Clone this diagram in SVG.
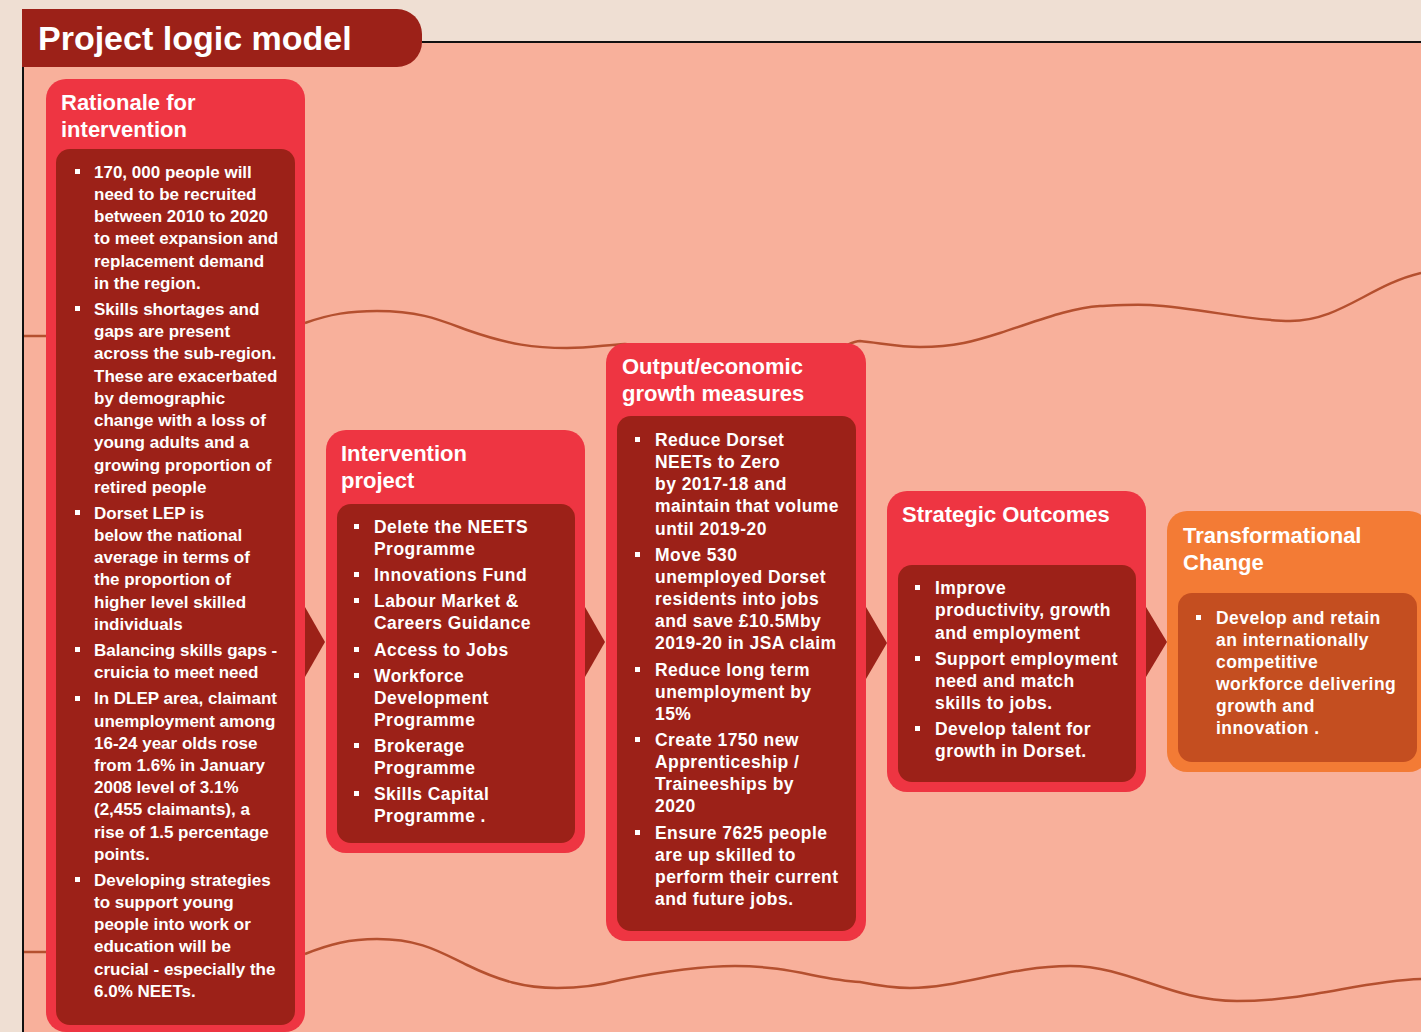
<svg xmlns="http://www.w3.org/2000/svg" width="1421" height="1032" viewBox="0 0 1421 1032">
<style>
.ttl{font-family:"Liberation Sans",Arial,sans-serif;font-weight:bold;font-size:22px;fill:#fff}
.b1{font-family:"Liberation Sans",Arial,sans-serif;font-weight:bold;font-size:17px;fill:#fff}
.bt{font-family:"Liberation Sans",Arial,sans-serif;font-weight:bold;font-size:17.5px;letter-spacing:0.45px;fill:#fff}
.outer{fill:#ee3542}
.inner{fill:#9c2118}
.wave{fill:none;stroke:#b5502f;stroke-width:2.5}
.arrow{fill:#9c2118}
.bul{fill:#fff}
</style>
<rect x="0" y="0" width="1421" height="1032" fill="#efdfd3"/>
<rect x="23" y="42" width="1398" height="990" fill="#f8b09b"/>
<path d="M22,9 H397 A25,25 0 0 1 422,34 V42 A25,25 0 0 1 397,67 H22 Z" fill="#9c2118"/>
<text x="38" y="50" font-family="Liberation Sans, Arial, sans-serif" font-weight="bold" font-size="34" fill="#fff">Project logic model</text>
<line x1="422" y1="42" x2="1421" y2="42" stroke="#111" stroke-width="2"/>
<line x1="23" y1="67" x2="23" y2="1032" stroke="#111" stroke-width="2"/>

<g id="connectors">
<line class="wave" x1="24" y1="336" x2="46" y2="336"/>
<line class="wave" x1="24" y1="952" x2="46" y2="952"/>
<path class="wave" d="M305,323 C330,314 350,311 377,311 C420,311 440,320 467,330 C510,345 535,348 567,348 C590,348 605,345 625,344 L700,352 L820,352 C840,352 850,341 860,341 C880,343 900,347 920,347 C955,347 975,341 1000,333 C1040,320 1070,308 1100,306 C1120,305 1135,304 1150,305 C1200,308 1250,321 1290,321 C1340,321 1370,285 1421,273"/>
<path class="wave" d="M305,954 C330,944 350,939 377,939 C420,939 440,952 467,965 C500,981 525,988 557,988 C585,988 605,984 620,980 C660,972 700,966 735,966 C790,966 820,980 860,982 C880,986 895,988 910,988 C960,988 1010,966 1070,966 C1130,966 1170,1001 1237,1001 C1310,1001 1360,981 1421,979"/>
<polygon class="arrow" points="305,607 325,642 305,677"/>
<polygon class="arrow" points="585,607 605,642 585,677"/>
<polygon class="arrow" points="866,607 887,643 866,679"/>
<polygon class="arrow" points="1146,607 1167,642 1146,677"/>
</g>

<g id="rationale">
<rect class="outer" x="46" y="79" width="259" height="953" rx="20"/>
<rect class="inner" x="56" y="149" width="239" height="876" rx="14"/>
<text class="ttl" x="61" y="110">Rationale for</text>
<text class="ttl" x="61" y="137">intervention</text>
<g class="bul">
<rect x="75" y="169" width="5" height="5"/>
<rect x="75" y="306" width="5" height="5"/>
<rect x="75" y="510" width="5" height="5"/>
<rect x="75" y="647" width="5" height="5"/>
<rect x="75" y="696" width="5" height="5"/>
<rect x="75" y="877" width="5" height="5"/>
</g>
<text class="b1">
<tspan x="94" y="177.5">170, 000 people will</tspan>
<tspan x="94" y="199.5">need to be recruited</tspan>
<tspan x="94" y="222">between 2010 to 2020</tspan>
<tspan x="94" y="244">to meet expansion and</tspan>
<tspan x="94" y="266.5">replacement demand</tspan>
<tspan x="94" y="288.5">in the region.</tspan>
<tspan x="94" y="314.5">Skills shortages and</tspan>
<tspan x="94" y="337">gaps are present</tspan>
<tspan x="94" y="359">across the sub-region.</tspan>
<tspan x="94" y="381.5">These are exacerbated</tspan>
<tspan x="94" y="403.5">by demographic</tspan>
<tspan x="94" y="426">change with a loss of</tspan>
<tspan x="94" y="448">young adults and a</tspan>
<tspan x="94" y="470.5">growing proportion of</tspan>
<tspan x="94" y="492.5">retired people</tspan>
<tspan x="94" y="518.5">Dorset LEP is</tspan>
<tspan x="94" y="540.5">below the national</tspan>
<tspan x="94" y="563">average in terms of</tspan>
<tspan x="94" y="585">the proportion of</tspan>
<tspan x="94" y="607.5">higher level skilled</tspan>
<tspan x="94" y="629.5">individuals</tspan>
<tspan x="94" y="655.5">Balancing skills gaps -</tspan>
<tspan x="94" y="678">cruicia to meet need</tspan>
<tspan x="94" y="704">In DLEP area, claimant</tspan>
<tspan x="94" y="726.5">unemployment among</tspan>
<tspan x="94" y="748.5">16-24 year olds rose</tspan>
<tspan x="94" y="770.5">from 1.6% in January</tspan>
<tspan x="94" y="793">2008 level of 3.1%</tspan>
<tspan x="94" y="815">(2,455 claimants), a</tspan>
<tspan x="94" y="837.5">rise of 1.5 percentage</tspan>
<tspan x="94" y="859.5">points.</tspan>
<tspan x="94" y="885.5">Developing strategies</tspan>
<tspan x="94" y="907.5">to support young</tspan>
<tspan x="94" y="930">people into work or</tspan>
<tspan x="94" y="952">education will be</tspan>
<tspan x="94" y="974.5">crucial - especially the</tspan>
<tspan x="94" y="996.5">6.0% NEETs.</tspan>
</text>
</g>

<g id="intervention">
<rect class="outer" x="326" y="430" width="259" height="423" rx="20"/>
<rect class="inner" x="337" y="504" width="238" height="339" rx="14"/>
<text class="ttl" x="341" y="461">Intervention</text>
<text class="ttl" x="341" y="488">project</text>
<g class="bul">
<rect x="354" y="524" width="5" height="5"/>
<rect x="354" y="572" width="5" height="5"/>
<rect x="354" y="598" width="5" height="5"/>
<rect x="354" y="647" width="5" height="5"/>
<rect x="354" y="673" width="5" height="5"/>
<rect x="354" y="743" width="5" height="5"/>
<rect x="354" y="791" width="5" height="5"/>
</g>
<text class="bt">
<tspan x="374" y="532.5">Delete the NEETS</tspan>
<tspan x="374" y="554.5">Programme</tspan>
<tspan x="374" y="580.5">Innovations Fund</tspan>
<tspan x="374" y="606.5">Labour Market &amp;</tspan>
<tspan x="374" y="629">Careers Guidance</tspan>
<tspan x="374" y="655.5">Access to Jobs</tspan>
<tspan x="374" y="681.5">Workforce</tspan>
<tspan x="374" y="703.5">Development</tspan>
<tspan x="374" y="726">Programme</tspan>
<tspan x="374" y="751.5">Brokerage</tspan>
<tspan x="374" y="773.5">Programme</tspan>
<tspan x="374" y="799.5">Skills Capital</tspan>
<tspan x="374" y="821.5">Programme .</tspan>
</text>
</g>

<g id="output">
<rect class="outer" x="606" y="343" width="260" height="598" rx="20"/>
<rect class="inner" x="617" y="416" width="239" height="515" rx="14"/>
<text class="ttl" x="622" y="374">Output/economic</text>
<text class="ttl" x="622" y="401">growth measures</text>
<g class="bul">
<rect x="635" y="437" width="5" height="5"/>
<rect x="635" y="552" width="5" height="5"/>
<rect x="635" y="667" width="5" height="5"/>
<rect x="635" y="737" width="5" height="5"/>
<rect x="635" y="830" width="5" height="5"/>
</g>
<text class="bt">
<tspan x="655" y="445.5">Reduce Dorset</tspan>
<tspan x="655" y="467.5">NEETs to Zero</tspan>
<tspan x="655" y="489.5">by 2017-18 and</tspan>
<tspan x="655" y="512">maintain that volume</tspan>
<tspan x="655" y="534.5">until 2019-20</tspan>
<tspan x="655" y="560.5">Move 530</tspan>
<tspan x="655" y="582.5">unemployed Dorset</tspan>
<tspan x="655" y="604.5">residents into jobs</tspan>
<tspan x="655" y="626.5">and save £10.5Mby</tspan>
<tspan x="655" y="649">2019-20 in JSA claim</tspan>
<tspan x="655" y="675.5">Reduce long term</tspan>
<tspan x="655" y="697.5">unemployment by</tspan>
<tspan x="655" y="719.5">15%</tspan>
<tspan x="655" y="745.5">Create 1750 new</tspan>
<tspan x="655" y="767.5">Apprenticeship /</tspan>
<tspan x="655" y="790">Traineeships by</tspan>
<tspan x="655" y="812">2020</tspan>
<tspan x="655" y="838.5">Ensure 7625 people</tspan>
<tspan x="655" y="860.5">are up skilled to</tspan>
<tspan x="655" y="882.5">perform their current</tspan>
<tspan x="655" y="905">and future jobs.</tspan>
</text>
</g>

<g id="strategic">
<rect class="outer" x="887" y="491" width="259" height="301" rx="20"/>
<rect class="inner" x="898" y="565" width="238" height="217" rx="14"/>
<text class="ttl" x="902" y="522">Strategic Outcomes</text>
<g class="bul">
<rect x="915" y="585" width="5" height="5"/>
<rect x="915" y="656" width="5" height="5"/>
<rect x="915" y="726" width="5" height="5"/>
</g>
<text class="bt">
<tspan x="935" y="593.5">Improve</tspan>
<tspan x="935" y="616">productivity, growth</tspan>
<tspan x="935" y="638.5">and employment</tspan>
<tspan x="935" y="664.5">Support employment</tspan>
<tspan x="935" y="686.5">need and match</tspan>
<tspan x="935" y="708.5">skills to jobs.</tspan>
<tspan x="935" y="734.5">Develop talent for</tspan>
<tspan x="935" y="756.5">growth in Dorset.</tspan>
</text>
</g>

<g id="transformational">
<rect x="1167" y="511" width="262" height="261" rx="20" fill="#f37b35"/>
<rect x="1178" y="593" width="239" height="169" rx="14" fill="#c44e20"/>
<text class="ttl" x="1183" y="543">Transformational</text>
<text class="ttl" x="1183" y="570">Change</text>
<rect class="bul" x="1196" y="615" width="5" height="5"/>
<text class="bt">
<tspan x="1216" y="623.5">Develop and retain</tspan>
<tspan x="1216" y="645.5">an internationally</tspan>
<tspan x="1216" y="667.5">competitive</tspan>
<tspan x="1216" y="689.5">workforce delivering</tspan>
<tspan x="1216" y="711.5">growth and</tspan>
<tspan x="1216" y="734">innovation .</tspan>
</text>
</g>
</svg>
